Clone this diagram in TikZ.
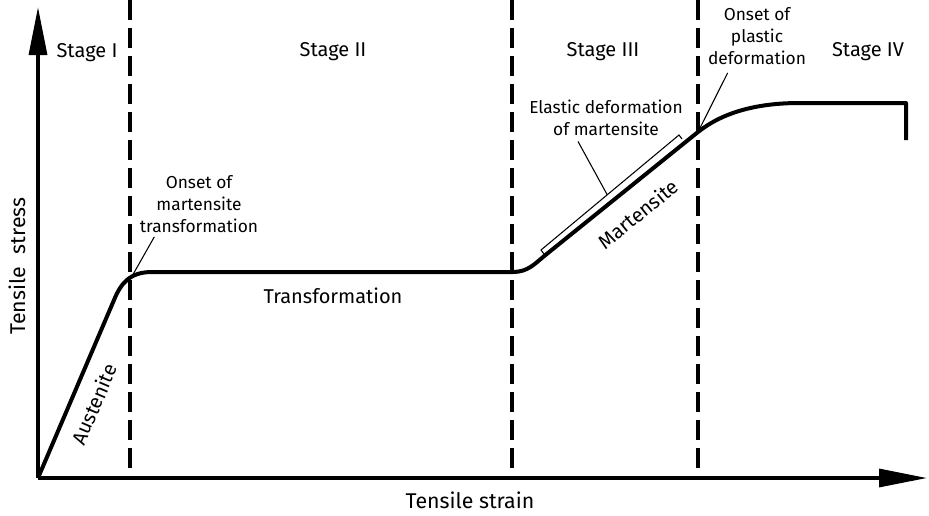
\documentclass[tikz,border=0pt]{standalone}
\usepackage{fontspec}
\setmainfont{Fira Sans}
\usetikzlibrary{arrows.meta, positioning}

\begin{document}
\begin{tikzpicture}[
x=0.75pt, y=-0.75pt,
axis/.style={line width=2.5pt, -{Triangle[length=36pt, width=13.5pt]}},
stagebound/.style={line width=2.3pt, dash pattern=on 15pt off 6pt},
curve/.style={line width=3pt, line join=round},
pointer/.style={line width=0.8pt},
stagelabel/.style={font=\fontsize{15}{18}\selectfont, inner sep=0pt},
axislabel/.style={font=\fontsize{16}{19}\selectfont, inner sep=0pt},
note/.style={font=\fontsize{13}{16.5}\selectfont, align=center, inner sep=0pt}
]
\useasboundingbox (0,0) rectangle (929,515);

% axes
\coordinate (origin) at (38,478);
\coordinate (ytip) at (38,7);
\coordinate (xtip) at (927,478);
\draw[axis] (origin) -- (ytip);
\draw[axis] (origin) -- (xtip);

% stage boundaries
\foreach \bx in {130,512,698}
  \draw[stagebound] (\bx,0) -- (\bx,478);

% stress-strain curve
\coordinate (mtonset) at (131,278);
\coordinate (plonset) at (698,132);
\draw[curve] (origin) -- (114,300) .. controls (121,283) and (130,272) .. (152,272)
  -- (513,272) .. controls (528,272) and (535,263.5) .. (545,255.4)
  -- (plonset) .. controls (722,113) and (755,103) .. (800,103)
  -- (906,103) -- (906,140);

% labels
\node[stagelabel] (s1) at (87,53) {Stage I};
\node[stagelabel] (s2) at (333,52) {Stage II};
\node[stagelabel] (s3) at (603,52) {Stage III};
\node[stagelabel] (s4) at (868,52) {Stage IV};
\node[stagelabel] (trans) at (333,296) {Transformation};
\node[stagelabel, rotate=67] (aus) at (94,404) {Austenite};
\node[stagelabel, rotate=39] (mart) at (638,214) {Martensite};
\node[axislabel, rotate=90] (ylab) at (17,266) {Tensile\hspace{0.6em}stress};
\node[axislabel] (xlab) at (470,500) {Tensile strain};

% annotations
\node[note] (mtnote) at (199,204) {Onset of\\martensite\\transformation};
\node[note] (plnote) at (757,36) {Onset of\\plastic\\deformation};
\node[note] (elnote) at (606,118) {Elastic deformation\\of martensite};

\coordinate (elA) at (541,250);
\coordinate (elB) at (679,135);
\path (elA) -- (elB) coordinate[pos=0.48] (elmid);
\draw[pointer] (elA) ++(3,4) -- (elA) -- (elB) -- ++(3,4);

\draw[pointer] ([xshift=11pt,yshift=-3pt]mtnote.south west) -- (mtonset);
\draw[pointer] ([xshift=-22pt,yshift=-6pt]plnote.south) -- (plonset);
\draw[pointer] ([xshift=-21pt,yshift=-4pt]elnote.south) -- (elmid);
\end{tikzpicture}
\end{document}
